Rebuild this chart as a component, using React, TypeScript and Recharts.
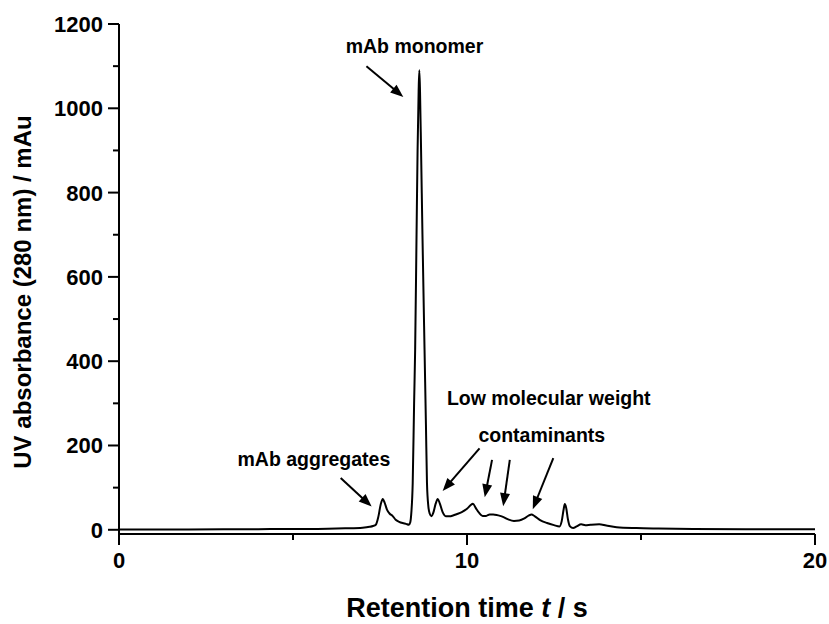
import { LineChart, Line, XAxis, YAxis, ReferenceLine, ReferenceDot, Label } from "recharts";

const FONT = '"Liberation Sans", Arial, sans-serif';

// retention time (s) and UV absorbance (mAu)
const times = [
  0, 1, 2, 3, 4, 5, 5.5, 6, 6.5, 7.0, 7.2, 7.3, 7.38, 7.45, 7.52, 7.58, 7.63, 7.7, 7.78, 7.86,
  7.95, 8.05, 8.15, 8.25, 8.33, 8.37, 8.4, 8.44, 8.48, 8.51, 8.55, 8.58, 8.61, 8.63, 8.65, 8.68,
  8.72, 8.78, 8.82, 8.85, 8.89, 8.93, 8.98, 9.03, 9.1, 9.16, 9.22, 9.3, 9.4, 9.5, 9.6, 9.7,
  9.85, 10.0, 10.1, 10.17, 10.25, 10.35, 10.45, 10.55, 10.65, 10.75, 10.85, 10.95, 11.05, 11.2,
  11.35, 11.5, 11.65, 11.78, 11.85, 11.95, 12.1, 12.3, 12.5, 12.66, 12.72, 12.78, 12.81, 12.85,
  12.9, 12.96, 13.05, 13.15, 13.28, 13.4, 13.55, 13.8, 14.0, 14.3, 14.87, 15.5, 16.5, 18, 20,
];
const absorbance = [
  0.5, 0.5, 0.7, 1, 1.5, 2, 2, 2.5, 3.5, 5, 7, 9, 12, 30, 60, 73, 65, 48, 38, 33,
  24, 19, 16, 14, 12, 18, 40, 111, 300, 427, 700, 901, 1040, 1090, 1040, 901,
  700, 427, 250, 111, 55, 38, 32, 40, 62, 73, 62, 42, 32, 32, 34, 37,
  42, 50, 58, 62, 52, 40, 33, 33, 36, 36, 35, 33, 30, 24,
  21, 22, 27, 34, 36, 32, 23, 16, 11, 8, 20, 50, 61, 52,
  25, 8, 4, 8, 13, 11, 12, 13, 10, 6, 4, 3, 2, 1.5, 1.5,
];

const xTicks = [0, 5, 10, 15, 20];
const xLabelled = [0, 10, 20];
const yTicks = [0, 100, 200, 300, 400, 500, 600, 700, 800, 900, 1000, 1100, 1200];
const yLabelled = [0, 200, 400, 600, 800, 1000, 1200];

// annotation texts (x, y in data units, y = baseline)
const noteText = ["mAb monomer", "Low molecular weight", "contaminants", "mAb aggregates"];
const noteX = [8.49, 12.35, 12.15, 5.6];
const noteY = [1131, 296, 208, 151];

// arrows: tail -> head, data units
const arrowTailX = [7.11, 6.37, 10.36, 10.72, 11.23, 12.48];
const arrowTailY = [1100, 123, 193, 166, 166, 170];
const arrowHeadX = [8.17, 7.26, 9.3, 10.51, 11.04, 11.89];
const arrowHeadY = [1027, 55, 92, 77, 56, 49];

const data = times.map((t, i) => ({ t, a: absorbance[i] }));

function XTick(props: any) {
  const { x, y, payload } = props;
  const major = xLabelled.includes(payload.value);
  return (
    <g>
      <line x1={x} x2={x} y1={y} y2={y + (major ? 11 : 6)} stroke="#000" strokeWidth={2} />
      {major && (
        <text x={x} y={y + 34} textAnchor="middle" fontSize={22} fontWeight="bold" fontFamily={FONT} fill="#000">
          {payload.value}
        </text>
      )}
    </g>
  );
}

function YTick(props: any) {
  const { x, y, payload } = props;
  const major = yLabelled.includes(payload.value);
  return (
    <g>
      <line x1={x - (major ? 11 : 6)} x2={x} y1={y} y2={y} stroke="#000" strokeWidth={2} />
      {major && (
        <text x={x - 16} y={y + 8} textAnchor="end" fontSize={22} fontWeight="bold" fontFamily={FONT} fill="#000">
          {payload.value}
        </text>
      )}
    </g>
  );
}

function Arrow(props: any) {
  const { x1, y1, x2, y2 } = props;
  const dx = x2 - x1;
  const dy = y2 - y1;
  const len = Math.sqrt(dx * dx + dy * dy);
  const ux = dx / len;
  const uy = dy / len;
  const hl = 13;
  const hw = 5;
  const bx = x2 - ux * hl;
  const by = y2 - uy * hl;
  return (
    <g>
      <line x1={x1} y1={y1} x2={bx + ux} y2={by + uy} stroke="#000" strokeWidth={2} />
      <polygon
        points={`${x2},${y2} ${bx - uy * hw},${by + ux * hw} ${bx + uy * hw},${by - ux * hw}`}
        fill="#000"
      />
    </g>
  );
}

export default function App() {
  return (
    <div style={{ position: "absolute", left: 0, top: 0, background: "#fff" }}>
      <LineChart width={829} height={624} data={data} margin={{ top: 24, right: 14, bottom: 0, left: 0 }}>
        <XAxis
          dataKey="t"
          type="number"
          domain={[0, 20]}
          ticks={xTicks}
          interval={0}
          height={90}
          stroke="#000"
          strokeWidth={2}
          tickLine={false}
          tickSize={0}
          tickMargin={0}
          tick={<XTick />}
        >
          <Label
            content={(p: any) => {
              const vb = p.viewBox;
              return (
                <text
                  x={vb.x + vb.width / 2}
                  y={vb.y + 83}
                  textAnchor="middle"
                  fontSize={27}
                  fontWeight="bold"
                  fontFamily={FONT}
                  fill="#000"
                >
                  Retention time <tspan fontStyle="italic">t</tspan> / s
                </text>
              );
            }}
          />
        </XAxis>
        <YAxis
          type="number"
          domain={[-10, 1200]}
          ticks={yTicks}
          interval={0}
          width={119}
          stroke="#000"
          strokeWidth={2}
          tickLine={false}
          tickSize={0}
          tickMargin={0}
          tick={<YTick />}
        >
          <Label
            content={() => (
              <text
                x={31}
                y={292}
                transform="rotate(-90 31 292)"
                textAnchor="middle"
                fontSize={24}
                fontWeight="bold"
                fontFamily={FONT}
                fill="#000"
              >
                UV absorbance (280 nm) / mAu
              </text>
            )}
          />
        </YAxis>
        <Line
          dataKey="a"
          type="monotone"
          stroke="#000"
          strokeWidth={2}
          dot={false}
          isAnimationActive={false}
        />
        {arrowTailX.map((tx, i) => (
          <ReferenceLine
            key={"ar" + i}
            segment={[
              { x: tx, y: arrowTailY[i] },
              { x: arrowHeadX[i], y: arrowHeadY[i] },
            ]}
            ifOverflow="visible"
            shape={<Arrow />}
          />
        ))}
        {noteText.map((txt, i) => (
          <ReferenceDot
            key={"nt" + i}
            x={noteX[i]}
            y={noteY[i]}
            ifOverflow="visible"
            shape={(p: any) => (
              <text
                x={p.cx}
                y={p.cy}
                textAnchor="middle"
                fontSize={19.5}
                fontWeight="bold"
                fontFamily={FONT}
                fill="#000"
              >
                {txt}
              </text>
            )}
          />
        ))}
      </LineChart>
    </div>
  );
}
